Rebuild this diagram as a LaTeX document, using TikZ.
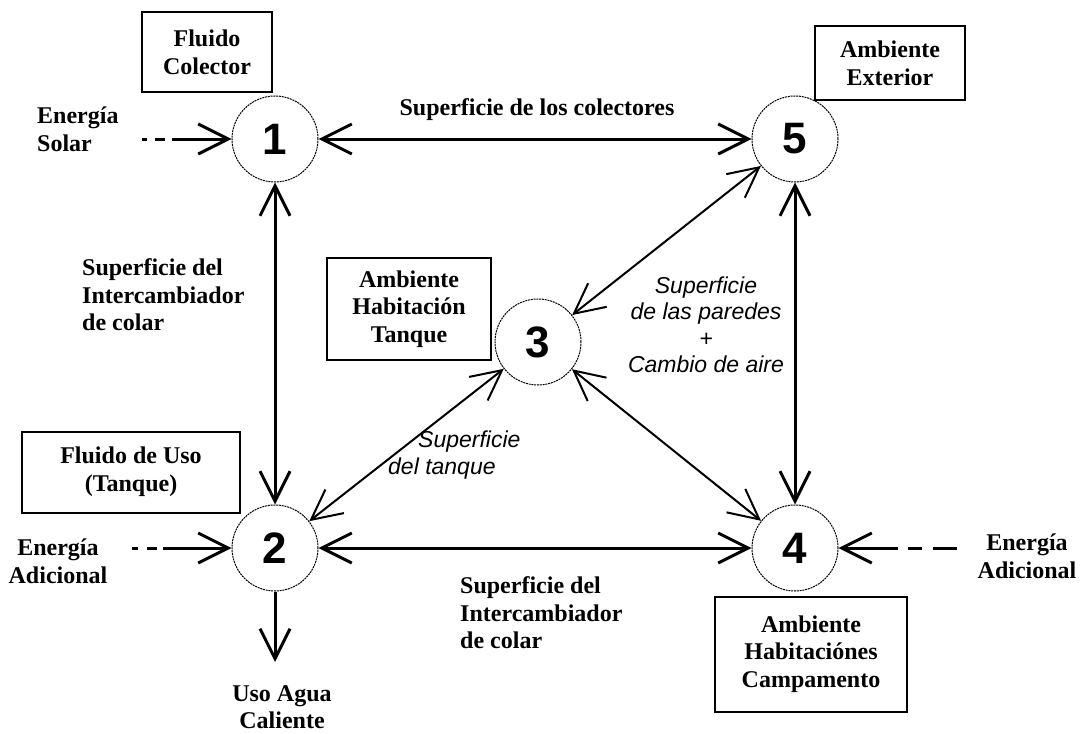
\documentclass[tikz,border=0pt]{standalone}
\usepackage{fontspec}
\setmainfont{Liberation Serif}
\setsansfont{Liberation Sans}
\usetikzlibrary{arrows.meta, positioning}

\begin{document}
\begin{tikzpicture}[x=1pt, y=-1pt,
    >={Straight Barb[length=30pt, width=30pt]},
    state/.style={draw, circle, line width=1pt, dash pattern=on 2pt off 0.8pt, minimum size=86pt, inner sep=0pt, font=\sffamily\bfseries\fontsize{44}{44}\selectfont},
    box/.style={draw, line width=2pt, align=center, inner sep=0pt, font=\bfseries\fontsize{24}{27.6}\selectfont},
    lbl/.style={align=left, inner sep=0pt, font=\bfseries\fontsize{24}{27.6}\selectfont},
    ital/.style={align=center, inner sep=0pt, font=\sffamily\itshape\fontsize{23}{26.5}\selectfont},
    flow/.style={<->, line width=3pt},
    link/.style={<->, line width=2pt},
    feed/.style={->, line width=3pt}
]
    \useasboundingbox (0,0) rectangle (1083,733);

    % Nodes of the network
    \node[state] (c1) at (275,139) {1};
    \node[state] (c5) at (795,139) {5};
    \node[state] (c3) at (538,342) {3};
    \node[state] (c2) at (275,548) {2};
    \node[state] (c4) at (795,548) {4};

    % Boxes
    \node[box, minimum width=130pt, minimum height=80pt] (fcol) at (207,52) {Fluido\\Colector};
    \node[box, minimum width=150pt, minimum height=74pt] (aext) at (890,63) {Ambiente\\Exterior};
    \node[box, minimum width=164pt, minimum height=102pt] (ahab) at (409,309) {Ambiente\\Habitación\\Tanque};
    \node[box, minimum width=218pt, minimum height=81pt] (fuso) at (131,472) {Fluido de Uso\\(Tanque)};
    \node[box, minimum width=192pt, minimum height=115pt] (acam) at (811,654) {Ambiente\\Habitaciónes\\Campamento};

    % Labels
    \node[lbl, anchor=west] (esol) at (37,129) {Energía\\Solar};
    \node[lbl] (scol) at (537,110) {Superficie de los colectores};
    \node[lbl, anchor=west] (sint1) at (82,295) {Superficie del\\Intercambiador\\de colar};
    \node[lbl, align=center] (eadl) at (58,561) {Energía\\Adicional};
    \node[lbl, align=center] (eadr) at (1027,556) {Energía\\Adicional};
    \node[lbl, align=center] (uso) at (282,707) {Uso Agua\\Caliente};
    \node[lbl, anchor=west] (sint2) at (460,613) {Superficie del\\Intercambiador\\de colar};
    \node[ital, align=left, anchor=west] (stan) at (388,455) {\hspace*{30pt}Superficie\\del tanque};
    \node[ital] (spar) at (706,325) {Superficie\\de las paredes\\+\\Cambio de aire};

    % Free ends
    \coordinate (sol) at (142,139);
    \coordinate (adl) at (132,548);
    \coordinate (adr) at (957,548);
    \coordinate (agua) at (275,662);

    % Connectors
    \draw[flow] (c1) -- (c5);
    \draw[flow] (c1) -- (c2);
    \draw[flow] (c2) -- (c4);
    \draw[flow] (c5) -- (c4);
    \draw[link] (c3) -- (c5);
    \draw[link] (c3) -- (c2);
    \draw[link] (c3) -- (c4);
    \draw[feed, dash pattern=on 5pt off 8pt on 10pt off 7pt on 400pt] (sol) -- (c1);
    \draw[feed, dash pattern=on 6pt off 9pt on 10pt off 6pt on 400pt] (adl) -- (c2);
    \draw[feed, dash pattern=on 24pt off 11pt on 14pt off 10pt on 400pt] (adr) -- (c4);
    \draw[feed] (c2) -- (agua);
\end{tikzpicture}
\end{document}
